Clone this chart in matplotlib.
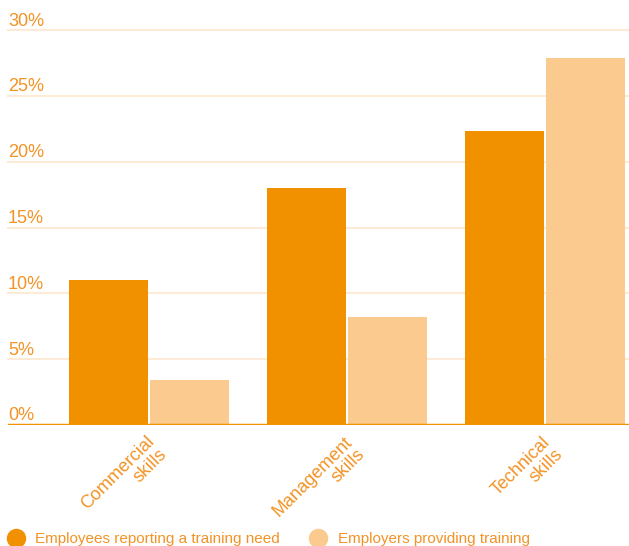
import matplotlib.pyplot as plt
import numpy as np
from matplotlib.lines import Line2D
import matplotlib.transforms as mtransforms

categories = ['Commercial\nskills', 'Management\nskills', 'Technical\nskills']
need = [11.0, 18.0, 22.3]
providing = [3.4, 8.2, 27.9]
yticks = [0, 5, 10, 15, 20, 25, 30]
ytick_labels = ['0%', '5%', '10%', '15%', '20%', '25%', '30%']

dark = '#F29100'
light = '#FBCA8E'
text_col = '#F39325'
grid_col = '#FDEBD8'

plt.rcParams['font.family'] = ['Liberation Sans', 'DejaVu Sans']

fig = plt.figure(figsize=(6.29, 5.46), dpi=100)
ax = fig.add_axes([8 / 629, (546 - 425) / 546, 621 / 629, 395 / 546])

x = np.arange(len(categories))
w = 0.4
ax.bar(x - w / 2 - 0.005, need, width=w, color=dark, zorder=3)
ax.bar(x + w / 2 + 0.005, providing, width=w, color=light, zorder=3)

ax.set_xlim(-0.712, 2.424)
ax.set_ylim(0, 30)
for t in yticks[1:]:
    ax.axhline(t, color=grid_col, lw=1.5, zorder=1, clip_on=False)
ax.axhline(0, color=dark, lw=2.5, zorder=4)

ax.set_yticks(yticks)
ax.set_yticklabels(ytick_labels, ha='left', va='baseline', color=text_col, fontsize=13)
ax.tick_params(axis='y', length=0, pad=0)
up = mtransforms.ScaledTranslation(0, 4.5 / 100, fig.dpi_scale_trans)
for lab in ax.get_yticklabels():
    lab.set_transform(lab.get_transform() + up)

ax.set_xticks(x)
ax.set_xticklabels(categories, rotation=45, ha='right', va='top', rotation_mode='anchor',
                   multialignment='right', color=text_col, fontsize=13, linespacing=1.05)
ax.tick_params(axis='x', length=0, pad=6)
shift = mtransforms.ScaledTranslation(-3 / 100, 0, fig.dpi_scale_trans)
for lab in ax.get_xticklabels():
    lab.set_transform(lab.get_transform() + shift)

for s in ax.spines.values():
    s.set_visible(False)

handles = [Line2D([], [], marker='o', ls='', color=dark, markersize=13),
           Line2D([], [], marker='o', ls='', color=light, markersize=13)]
leg = fig.legend(handles, ['Employees reporting a training need', 'Employers providing training'],
                 loc='center left', bbox_to_anchor=(0.003, 0.013), ncol=2, frameon=False,
                 fontsize=11, handletextpad=0.8, columnspacing=2.0, borderaxespad=0,
                 handlelength=1.0)
for t in leg.get_texts():
    t.set_color(text_col)

fig.savefig('out.png', dpi=100)
